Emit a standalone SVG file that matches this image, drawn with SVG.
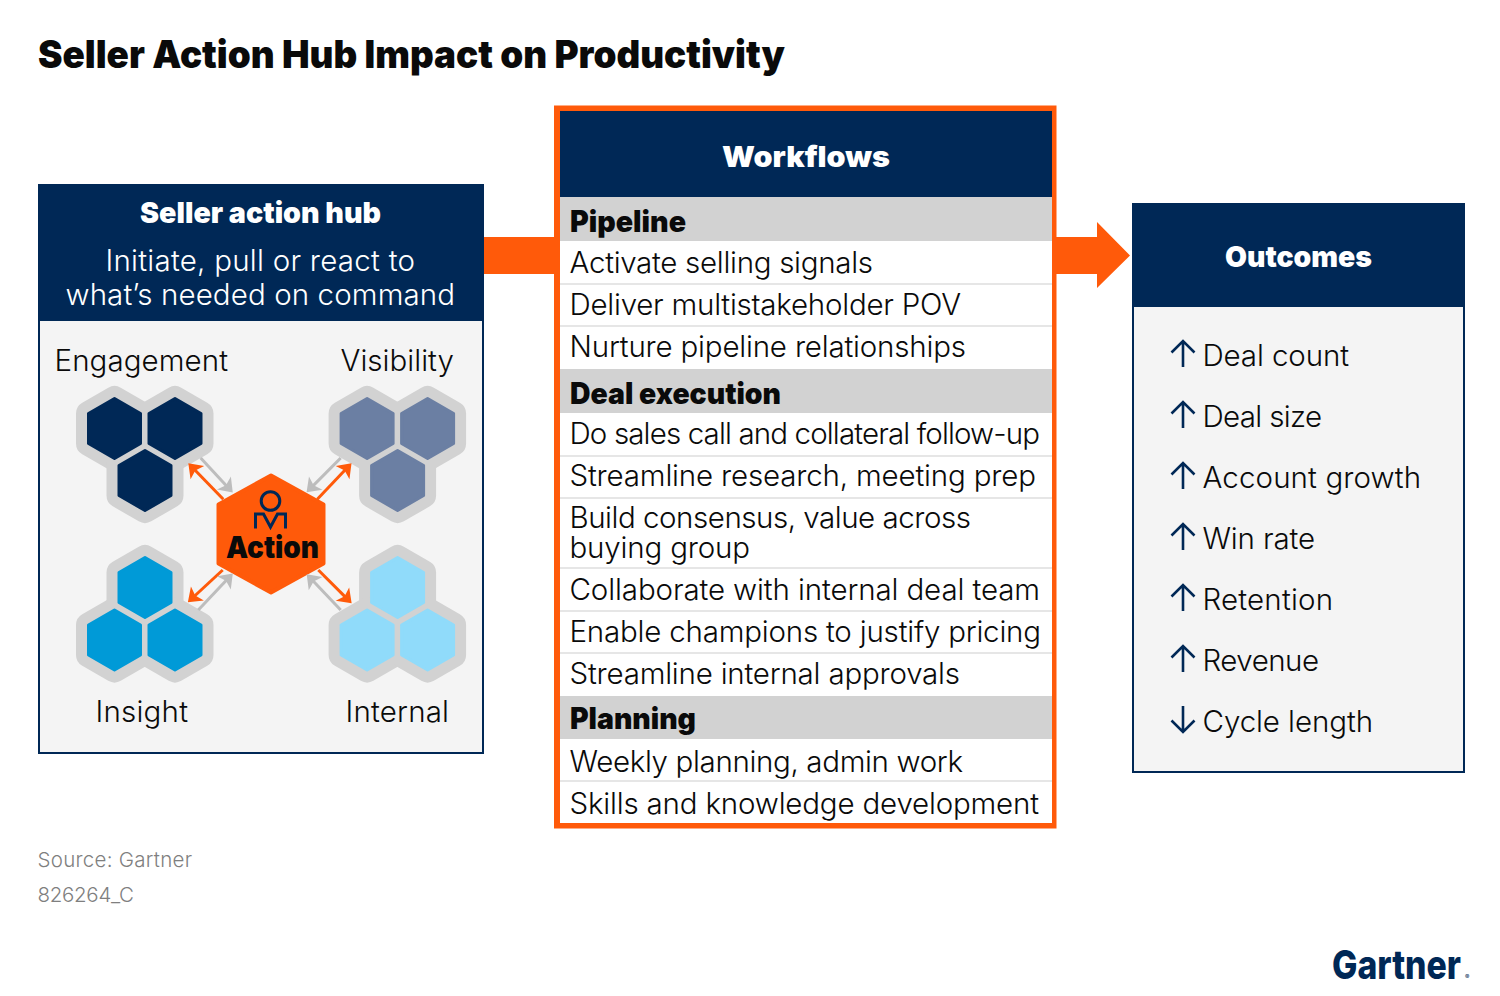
<svg xmlns="http://www.w3.org/2000/svg" width="1500" height="996" viewBox="0 0 1500 996">
<style>
text{font-family:"Inter","Liberation Sans",sans-serif;fill:#0a0a0a}
.t{font-size:29.5px;font-weight:350}
.b{font-size:29.5px;font-weight:900}
.w{fill:#fff;font-size:29.5px;font-weight:350}
.wb{fill:#fff;font-weight:900;font-size:29px}
.s{font-size:20.5px;fill:#7f7f7f;font-weight:350}
.navy{fill:#002856}
.div{stroke:#e6e6e6;stroke-width:2}
.og{stroke:#ff5a0a;stroke-width:3;fill:none;marker-end:url(#ho)}
.gg{stroke:#bdbdbd;stroke-width:3;fill:none;marker-end:url(#hg)}
.up{stroke:#002856;stroke-width:2.6;fill:none;stroke-linecap:butt}
.halo{fill:#d2d2d2;stroke:#d2d2d2;stroke-width:25;stroke-linejoin:round}
.cell{stroke-width:3;stroke-linejoin:round}
</style>
<defs>
<marker id="ho" markerUnits="userSpaceOnUse" markerWidth="16" markerHeight="22" refX="7" refY="11" orient="auto"><path d="M14 11L1 1.500L4 11L1 20.500z" fill="#ff5a0a"/></marker>
<marker id="hg" markerUnits="userSpaceOnUse" markerWidth="16" markerHeight="22" refX="7" refY="11" orient="auto"><path d="M14 11L1 1.500L4 11L1 20.500z" fill="#bdbdbd"/></marker>
<polygon id="hex" points="0,-30 26,-15 26,15 0,30 -26,15 -26,-15"/>
<polygon id="hexo" points="0,-58.500 52.500,-29.500 52.500,29.500 0,58.500 -52.500,29.500 -52.500,-29.500"/>
<g id="clusterDown">
<use href="#hex" class="halo" x="114.500" y="428.500"/><use href="#hex" class="halo" x="175" y="428.500"/><use href="#hex" class="halo" x="145" y="480.500"/>
</g>
<g id="clusterUp">
<use href="#hex" class="halo" x="145" y="587.500"/><use href="#hex" class="halo" x="114.500" y="640"/><use href="#hex" class="halo" x="175" y="640"/>
</g>
<path id="arrUp" class="up" d="M0 27V1.500M-11.500 12.500L0 1L11.500 12.500"/>
</defs>
<rect width="1500" height="996" fill="#fff"/>
<text x="38" y="68" textLength="747" lengthAdjust="spacingAndGlyphs" style="font-size:38px;font-weight:900">Seller Action Hub Impact on Productivity</text>

<g id="hub">
<rect x="39" y="185" width="444" height="568" fill="#f4f4f4" stroke="#002856" stroke-width="2"/>
<rect x="38" y="184" width="446" height="137" class="navy"/>
<text class="wb" x="140" y="223" textLength="241" lengthAdjust="spacingAndGlyphs">Seller action hub</text>
<text class="w" x="105.500" y="271" textLength="309.500">Initiate, pull or react to</text>
<text class="w" x="65.500" y="305" textLength="389.500">what’s needed on command</text>
</g>
<g id="engagement">
<use href="#clusterDown"/>
<g fill="#002856" stroke="#002856" class="cell"><use href="#hex" x="114.500" y="428.500"/><use href="#hex" x="175" y="428.500"/><use href="#hex" x="145" y="480.500"/></g>
<text class="t" x="54.500" y="371" textLength="173.500">Engagement</text>
</g>
<g id="visibility">
<use href="#clusterDown" x="252.600"/>
<g fill="#6b7fa3" stroke="#6b7fa3" class="cell" transform="translate(252.600)"><use href="#hex" x="114.500" y="428.500"/><use href="#hex" x="175" y="428.500"/><use href="#hex" x="145" y="480.500"/></g>
<text class="t" x="340.500" y="371" textLength="113.500">Visibility</text>
</g>
<g id="insight">
<use href="#clusterUp"/>
<g fill="#009ad7" stroke="#009ad7" class="cell"><use href="#hex" x="145" y="587.500"/><use href="#hex" x="114.500" y="640"/><use href="#hex" x="175" y="640"/></g>
<text class="t" x="95.500" y="722" textLength="92.500">Insight</text>
</g>
<g id="internal">
<use href="#clusterUp" x="252.600"/>
<g fill="#90dbfa" stroke="#90dbfa" class="cell" transform="translate(252.600)"><use href="#hex" x="145" y="587.500"/><use href="#hex" x="114.500" y="640"/><use href="#hex" x="175" y="640"/></g>
<text class="t" x="345.500" y="722" textLength="103.500">Internal</text>
</g>
<g id="action">
<use href="#hexo" x="271" y="534" fill="#ff5a0a" stroke="#ff5a0a" stroke-width="4" stroke-linejoin="round"/>
<circle cx="270.500" cy="501" r="9.300" fill="none" stroke="#002856" stroke-width="3"/>
<path d="M255.500 528.500V514H263.500L270.500 527L277.500 514H285.500V528.500" fill="none" stroke="#002856" stroke-width="3"/>
<text x="226" y="558" textLength="93" lengthAdjust="spacingAndGlyphs" style="font-size:30px;font-weight:900">Action</text>
</g>

<g id="workflows">
<rect x="554" y="105.500" width="502.500" height="723" fill="#ff5a0a"/>
<rect x="560" y="111" width="492" height="712" fill="#fff"/>
<rect x="560" y="111" width="492" height="86" class="navy"/>
<rect x="560" y="197" width="492" height="44" fill="#d2d2d2"/>
<rect x="560" y="369" width="492" height="44" fill="#d2d2d2"/>
<rect x="560" y="696" width="492" height="43" fill="#d2d2d2"/>
<path class="div" d="M560 284H1052M560 326H1052M560 456H1052M560 498H1052M560 568H1052M560 611H1052M560 653H1052M560 781H1052"/>
<text class="wb" x="722" y="167" textLength="168" lengthAdjust="spacingAndGlyphs">Workflows</text>
<text class="b" x="570" y="232" textLength="116" lengthAdjust="spacingAndGlyphs">Pipeline</text>
<text class="t" x="569.500" y="273" textLength="303.500">Activate selling signals</text>
<text class="t" x="569.500" y="315" textLength="391.500">Deliver multistakeholder POV</text>
<text class="t" x="569.500" y="357" textLength="396.500">Nurture pipeline relationships</text>
<text class="b" x="570" y="404" textLength="211" lengthAdjust="spacingAndGlyphs">Deal execution</text>
<text class="t" x="569.500" y="444" textLength="470.500">Do sales call and collateral follow-up</text>
<text class="t" x="569.500" y="486" textLength="466.500">Streamline research, meeting prep</text>
<text class="t" x="569.500" y="528" textLength="401.500">Build consensus, value across</text>
<text class="t" x="569.500" y="558" textLength="180.500">buying group</text>
<text class="t" x="569.500" y="600" textLength="470.500">Collaborate with internal deal team</text>
<text class="t" x="569.500" y="642" textLength="471.500">Enable champions to justify pricing</text>
<text class="t" x="569.500" y="684" textLength="390.500">Streamline internal approvals</text>
<text class="b" x="570" y="729" textLength="126" lengthAdjust="spacingAndGlyphs">Planning</text>
<text class="t" x="569.500" y="772" textLength="393.500">Weekly planning, admin work</text>
<text class="t" x="569.500" y="814" textLength="469.500">Skills and knowledge development</text>
</g>

<g id="outcomes">
<rect x="1133" y="204" width="331" height="568" fill="#f4f4f4" stroke="#002856" stroke-width="2"/>
<rect x="1132" y="203" width="333" height="104" class="navy"/>
<text class="wb" x="1225" y="267" textLength="147" lengthAdjust="spacingAndGlyphs">Outcomes</text>
<use href="#arrUp" x="1183" y="340"/><text class="t" x="1202.500" y="366" textLength="146.500">Deal count</text>
<use href="#arrUp" x="1183" y="401"/><text class="t" x="1202.500" y="427" textLength="119.500">Deal size</text>
<use href="#arrUp" x="1183" y="462"/><text class="t" x="1202.500" y="488" textLength="218.500">Account growth</text>
<use href="#arrUp" x="1183" y="523"/><text class="t" x="1202.500" y="549" textLength="112.500">Win rate</text>
<use href="#arrUp" x="1183" y="584"/><text class="t" x="1202.500" y="610" textLength="130.500">Retention</text>
<use href="#arrUp" x="1183" y="645"/><text class="t" x="1202.500" y="671" textLength="116.500">Revenue</text>
<use href="#arrUp" transform="translate(1183 733) scale(1 -1)"/><text class="t" x="1202.500" y="732" textLength="170.500">Cycle length</text>
</g>

<g id="connectors">
<rect x="484" y="237" width="70" height="37" fill="#ff5a0a"/>
<polygon points="1056,237 1097,237 1097,222 1130,255.500 1097,288 1097,274 1056,274" fill="#ff5a0a"/>
<path class="og" d="M223.300 499.300L193.200 468.300"/>
<path class="gg" d="M200.700 458L228 487.400"/>
<path class="og" d="M317.300 499.300L346.700 468.300"/>
<path class="gg" d="M340.700 458L311.500 487.400"/>
<path class="og" d="M222.700 570L193 597.500"/>
<path class="gg" d="M198.300 610L228 578.500"/>
<path class="og" d="M318.300 570L346.700 598.400"/>
<path class="gg" d="M340.700 610L311.500 579.300"/>
</g>

<g id="footer">
<text class="s" x="37.500" y="867" textLength="154.500">Source: Gartner</text>
<text class="s" x="37.500" y="902" textLength="96.500">826264_C</text>
<text x="1332" y="979" textLength="129" lengthAdjust="spacingAndGlyphs" style="font-size:40px;font-weight:800;fill:#002856">Gartner</text>
<text x="1465" y="979" style="font-size:6.500px;fill:#002856">®</text>
</g>
</svg>
